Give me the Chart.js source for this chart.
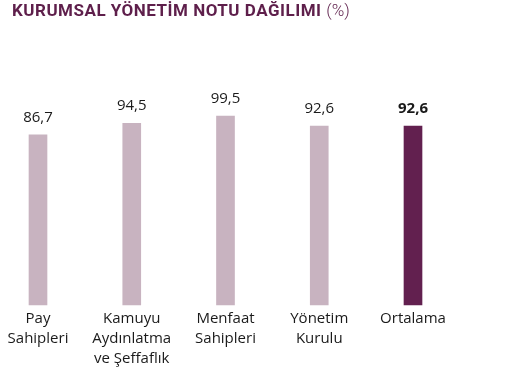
<!DOCTYPE html>
<html>
<head>
<meta charset="utf-8">
<script src="https://cdn.jsdelivr.net/npm/chart.js@4"></script>
<style>
  body { margin: 0; background: #fff; }
  #wrap { position: relative; width: 511px; height: 371px; }
  #title { position: absolute; left: 12px; top: 0px; font-family: Roboto, sans-serif; font-size: 17px; letter-spacing: 0.5px; font-weight: 700; color: #5e1f4b; white-space: nowrap; }
  #title span { font-weight: 300; letter-spacing: 0; }
</style>
</head>
<body>
<div id="wrap">
  <div id="title">KURUMSAL YÖNETİM NOTU DAĞILIMI <span>(%)</span></div>
  <canvas id="c" width="511" height="371"></canvas>
</div>
<script>
var categories = [
    ['Pay', 'Sahipleri'],
    ['Kamuyu', 'Aydınlatma', 've Şeffaflık'],
    ['Menfaat', 'Sahipleri'],
    ['Yönetim', 'Kurulu'],
    ['Ortalama']
];
var scores = [86.7, 94.5, 99.5, 92.6, 92.6];
var barColors = ['#c8b3c0', '#c8b3c0', '#c8b3c0', '#c8b3c0', '#62204f'];

// value labels above bars, comma decimals
var valueLabels = {
    id: 'valueLabels',
    afterDatasetsDraw: function (chart) {
        var ctx = chart.ctx;
        var meta = chart.getDatasetMeta(0);
        ctx.save();
        ctx.textAlign = 'center';
        ctx.textBaseline = 'alphabetic';
        ctx.fillStyle = '#1a1a1a';
        meta.data.forEach(function (bar, i) {
            var last = i === scores.length - 1;
            ctx.font = (last ? '700 ' : '400 ') + '15px "Open Sans"';
            ctx.fillText(scores[i].toFixed(1).replace('.', ','), bar.x, bar.y - 13);
        });
        ctx.restore();
    }
};

var ctx = document.getElementById('c').getContext('2d');
var chart = new Chart(ctx, {
    type: 'bar',
    data: {
        labels: categories,
        datasets: [{
            data: scores,
            backgroundColor: barColors,
            barThickness: 18,
            base: -30,
            clip: false
        }]
    },
    options: {
        responsive: false,
        animation: false,
        layout: { padding: { left: 38, right: 98, top: 57, bottom: 0 } },
        plugins: { legend: { display: false }, tooltip: { enabled: false } },
        scales: {
            x: {
                offset: false,
                grid: { display: false, drawTicks: false },
                border: { display: false },
                ticks: {
                    color: '#1a1a1a',
                    padding: 4,
                    maxRotation: 0,
                    autoSkip: false,
                    font: { family: '"Open Sans"', size: 15, lineHeight: 1.33 }
                },
                afterFit: function (s) { s.height = 66; }
            },
            y: {
                display: false,
                min: -30,
                max: 140
            }
        }
    },
    plugins: [valueLabels]
});
</script>
</body>
</html>
